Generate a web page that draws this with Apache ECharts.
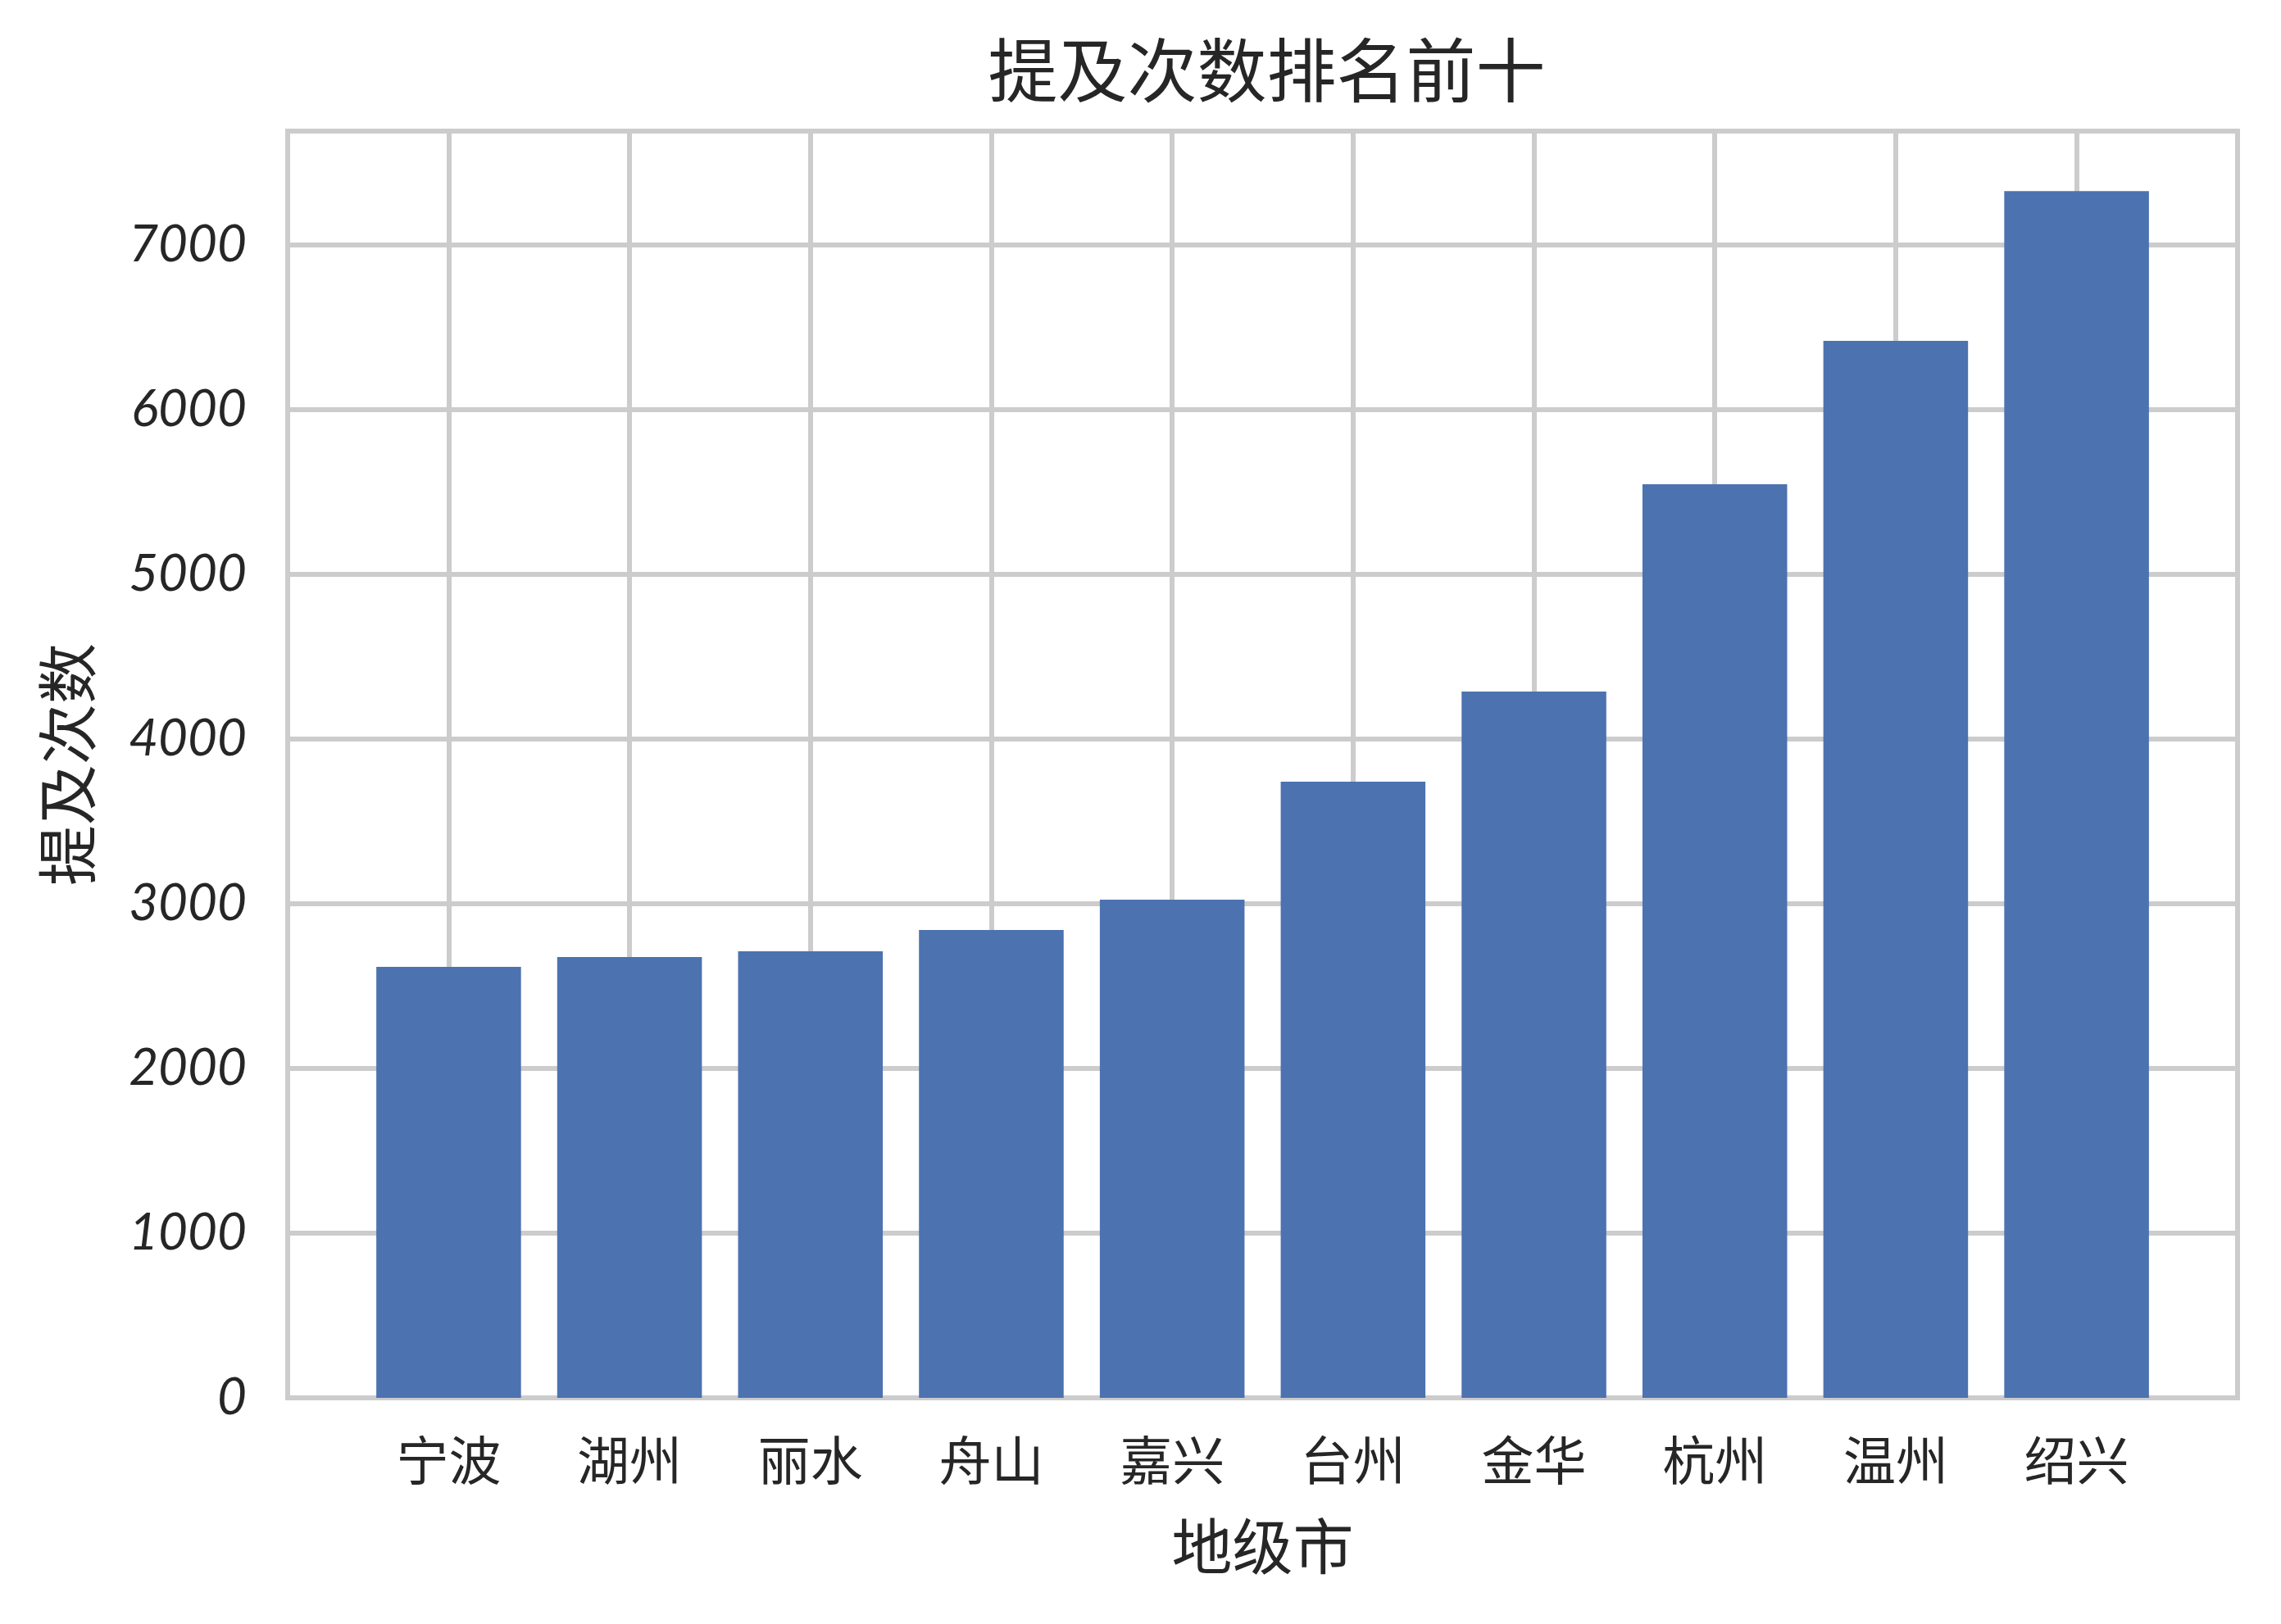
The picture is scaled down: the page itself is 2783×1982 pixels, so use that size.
<!DOCTYPE html>
<html>
<head>
<meta charset="utf-8">
<script src="https://cdn.jsdelivr.net/npm/echarts@6/dist/echarts.min.js"></script>
<style>
html,body{margin:0;padding:0;background:#fff;}
#chart{width:2783px;height:1982px;}
</style>
</head>
<body>
<div id="chart"></div>
<script>
const categories = ['宁波','湖州','丽水','舟山','嘉兴','台州','金华','杭州','温州','绍兴'];
const mentions = [2617, 2677, 2711, 2841, 3025, 3741, 4289, 5547, 6418, 7328];
const yTicks = [0,1000,2000,3000,4000,5000,6000,7000];
const yMax = 7692;

const W = 2783, H = 1982;
const plotL = 351, plotR = 2730, plotT = 160, plotB = 1706;
// matplotlib-style x limits: -0.89 .. 9.89
const xMin = -0.89, xMax = categories.length - 1 + 0.89;
const unit = (plotR - plotL) / (xMax - xMin);
const firstC = plotL + (0 - xMin) * unit;
const lastC = plotL + (categories.length - 1 - xMin) * unit;

const gridColor = '#cccccc';
const textColor = '#262626';
const cjk = '"Noto Sans CJK SC", sans-serif';

const chart = echarts.init(document.getElementById('chart'), null, {renderer:'canvas'});
chart.setOption({
  backgroundColor: '#ffffff',
  animation: false,
  title: {
    text: '提及次数排名前十',
    left: (plotL + plotR) / 2,
    top: 38,
    textAlign: 'center',
    textStyle: {fontFamily: cjk, fontSize: 85, fontWeight: 'normal', color: textColor}
  },
  grid: [
    {left: plotL, right: W - plotR, top: plotT, bottom: H - plotB, show: true,
     borderColor: gridColor, borderWidth: 6, backgroundColor: 'transparent'},
    {left: firstC, right: W - lastC, top: plotT, bottom: H - plotB, show: false}
  ],
  xAxis: [
    {gridIndex: 0, type: 'value', min: 0, max: 1, show: false},
    {gridIndex: 1, type: 'category', data: categories, boundaryGap: false,
     axisLine: {show: false}, axisTick: {show: false},
     splitLine: {show: true, interval: 0, lineStyle: {color: gridColor, width: 6}},
     axisLabel: {interval: 0, margin: 44, fontFamily: cjk, fontSize: 64, color: textColor},
     name: '地级市', nameLocation: 'middle', nameGap: 144,
     nameTextStyle: {fontFamily: cjk, fontSize: 74, color: textColor}
    }
  ],
  yAxis: [
    {gridIndex: 0, type: 'value', min: 0, max: yMax, interval: 1000,
     axisLine: {show: false}, axisTick: {show: false},
     splitLine: {show: true, lineStyle: {color: gridColor, width: 6}},
     axisLabel: {margin: 50, fontFamily: 'Lato', fontStyle: 'italic', fontSize: 62, color: textColor,
       formatter: function (v) { return yTicks.indexOf(v) >= 0 ? String(v) : ''; }},
     name: '提及次数', nameLocation: 'middle', nameGap: 232,
     nameTextStyle: {fontFamily: cjk, fontSize: 74, color: textColor}
    },
    {gridIndex: 1, type: 'value', min: 0, max: yMax, show: false}
  ],
  series: [{
    type: 'bar',
    xAxisIndex: 1, yAxisIndex: 1,
    data: mentions,
    barWidth: 0.8 * unit,
    clip: false,
    itemStyle: {color: '#4c72b0'},
    z: 2
  }]
});
</script>
</body>
</html>
